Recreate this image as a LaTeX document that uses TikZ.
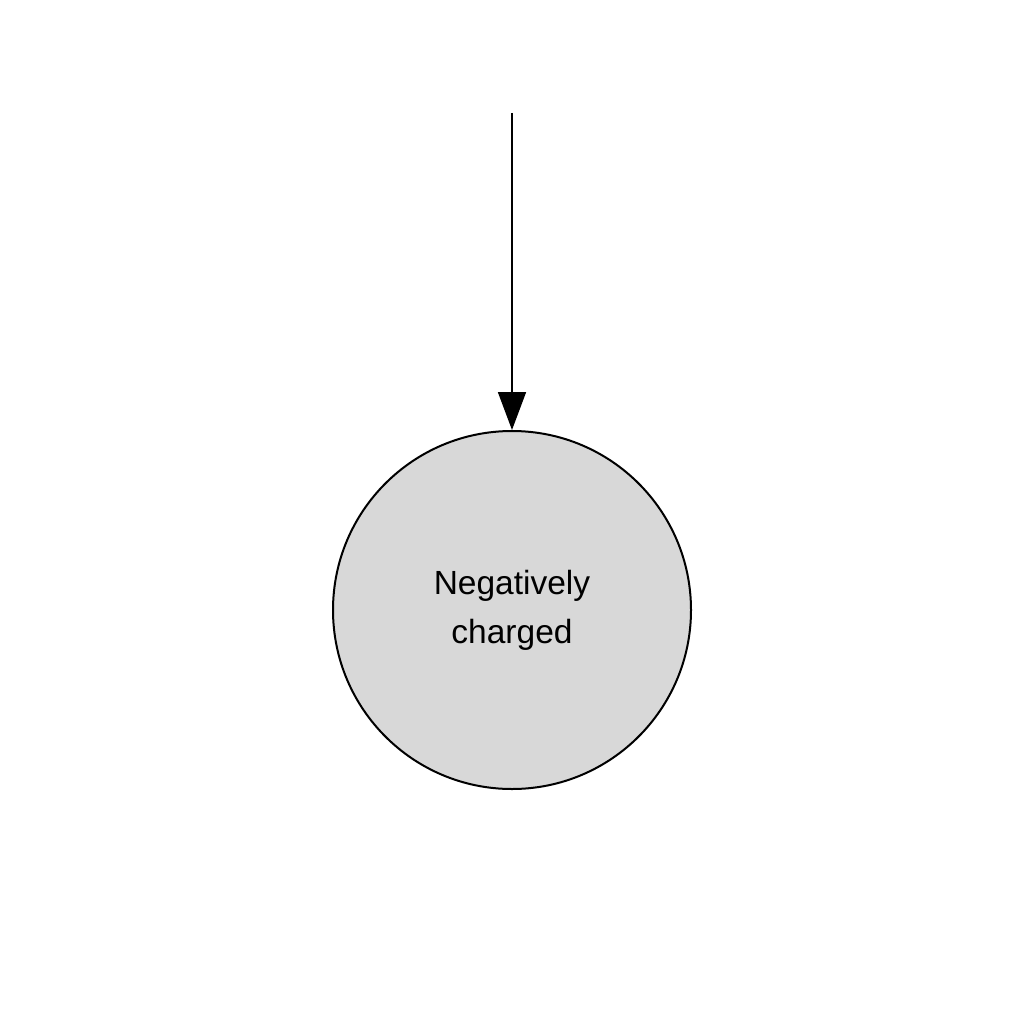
\documentclass[tikz,border=0pt]{standalone}
\usepackage{fontspec}
\setmainfont{Liberation Sans}
\usetikzlibrary{arrows.meta}
\definecolor{circfill}{HTML}{D8D8D8}
\tikzset{
  state/.style={circle, draw=black, line width=2pt, fill=circfill, minimum size=358pt, inner sep=0pt, align=center, font=\fontsize{33.5}{49}\selectfont},
  conn/.style={line width=1.8pt, -{Triangle[length=38pt,width=28pt]}}
}
\begin{document}
\begin{tikzpicture}[x=1pt,y=-1pt]
\useasboundingbox (0,0) rectangle (1024,1024);
\node[state] (neg) at (512,610) {Negatively\\charged};
\coordinate (start) at (512,113);
\draw[conn] (start) -- (neg.north);
\end{tikzpicture}
\end{document}
